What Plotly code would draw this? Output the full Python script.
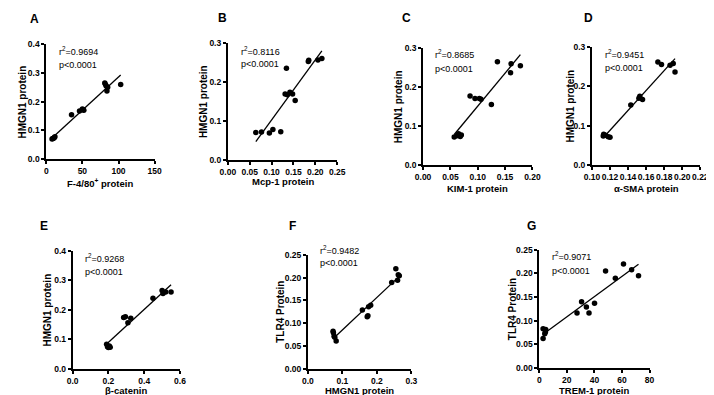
import numpy as np
import plotly.graph_objects as go

# ---------------- data ----------------
a_x = [8, 9, 10, 11, 12, 35, 46, 50, 51, 52, 81, 82, 83, 84, 85, 103]
a_y = [0.070, 0.072, 0.073, 0.075, 0.078, 0.155, 0.168, 0.175, 0.172, 0.170, 0.265, 0.260, 0.255, 0.237, 0.250, 0.260]

b_x = [0.064, 0.077, 0.095, 0.103, 0.121, 0.134, 0.131, 0.136, 0.142, 0.148, 0.154, 0.184, 0.185, 0.206, 0.215]
b_y = [0.071, 0.072, 0.070, 0.079, 0.073, 0.236, 0.170, 0.168, 0.174, 0.170, 0.153, 0.253, 0.256, 0.257, 0.261]

c_x = [0.057, 0.062, 0.065, 0.068, 0.070, 0.086, 0.095, 0.103, 0.106, 0.125, 0.136, 0.161, 0.160, 0.178]
c_y = [0.072, 0.075, 0.080, 0.073, 0.077, 0.177, 0.171, 0.171, 0.169, 0.155, 0.265, 0.260, 0.237, 0.255]

d_x = [0.1125, 0.113, 0.115, 0.118, 0.120, 0.143, 0.152, 0.153, 0.156, 0.173, 0.177, 0.1865, 0.190, 0.192]
d_y = [0.0737, 0.0786, 0.076, 0.072, 0.071, 0.153, 0.170, 0.175, 0.167, 0.262, 0.256, 0.254, 0.258, 0.237]

e_x = [0.19, 0.195, 0.20, 0.205, 0.21, 0.285, 0.295, 0.309, 0.325, 0.449, 0.50, 0.505, 0.52, 0.55]
e_y = [0.083, 0.075, 0.072, 0.077, 0.073, 0.174, 0.176, 0.156, 0.171, 0.239, 0.265, 0.255, 0.260, 0.260]

f_x = [0.073, 0.074, 0.076, 0.078, 0.082, 0.158, 0.174, 0.172, 0.176, 0.182, 0.243, 0.255, 0.260, 0.262, 0.265]
f_y = [0.082, 0.079, 0.071, 0.069, 0.061, 0.129, 0.116, 0.114, 0.136, 0.139, 0.189, 0.219, 0.194, 0.206, 0.204]

g_x = [2.8, 2.8, 4.0, 4.7, 4.5, 27.4, 30.7, 34.2, 36.1, 40.1, 48.1, 55.2, 61.1, 67.0, 72.0]
g_y = [0.062, 0.083, 0.072, 0.081, 0.076, 0.116, 0.140, 0.129, 0.116, 0.137, 0.205, 0.190, 0.220, 0.208, 0.195]

panel_letters = ["A", "B", "C", "D", "E", "F", "G"]
r2_values = ["0.9694", "0.8116", "0.8685", "0.9451", "0.9268", "0.9482", "0.9071"]
p_text = "p<0.0001"
x_titles = ["F-4/80<sup>+</sup> protein", "Mcp-1 protein", "KIM-1 protein", "α-SMA protein",
            "β-catenin", "HMGN1 protein", "TREM-1 protein"]
y_titles = ["HMGN1 protein", "HMGN1 protein", "HMGN1 protein", "HMGN1 protein",
            "HMGN1 protein", "TLR4 Protein", "TLR4 Protein"]
x_ranges = [(0, 150), (0, 0.25), (0, 0.20), (0.10, 0.22), (0, 0.6), (0, 0.3), (0, 80)]
x_dticks = [50, 0.05, 0.05, 0.02, 0.2, 0.1, 20]
x_formats = [".0f", ".2f", ".2f", ".2f", ".1f", ".1f", ".0f"]
y_ranges = [(0, 0.4), (0, 0.3), (0, 0.3), (0, 0.3), (0, 0.4), (0, 0.25), (0, 0.25)]
y_dticks = [0.1, 0.1, 0.1, 0.1, 0.1, 0.05, 0.05]
y_formats = [".1f", ".1f", ".1f", ".1f", ".1f", ".2f", ".2f"]

xs = [a_x, b_x, c_x, d_x, e_x, f_x, g_x]
ys = [a_y, b_y, c_y, d_y, e_y, f_y, g_y]

# ---------------- layout geometry (pixels) ----------------
W, H = 714, 395
boxes = [(31, 142, 32, 150), (217, 329, 31, 151), (417, 529, 36, 156), (590, 701, 35, 156),
         (58, 168, 244, 365), (299, 405, 248, 365), (536, 649, 243, 364)]
letter_pos = [(19, 6), (212, 5.5), (400.5, 5.5), (586, 5.5), (29, 219), (283.5, 219), (528.5, 219)]
r2_pos = [(41.5, 39.5), (228, 38.5), (427, 42.5), (601, 42.5), (69, 251), (309, 243.5), (547, 249)]
p_pos = [(41.5, 53), (228, 52.5), (427, 57), (601, 56.5), (69, 265.5), (309, 257), (547, 265)]
ytitle_off = [24, 25, 25, 22, 25.5, 27.5, 27.5]
xtitle_off = [24, 22, 24, 24, 22.5, 22.5, 23]

FONT = "Liberation Sans, Arial, Helvetica, sans-serif"
EPS = 1e-6


def px(x):
    return x / W


def py(y):
    return 1 - y / H


fig = go.Figure()
annotations = []
layout = {}

for i in range(7):
    n = "" if i == 0 else str(i + 1)
    xa, ya = "x" + n, "y" + n
    x0, x1, yt, yb = boxes[i]
    x = np.array(xs[i], dtype=float)
    y = np.array(ys[i], dtype=float)
    k, b = np.polyfit(x, y, 1)
    lx = np.array([x.min(), x.max()])
    fig.add_trace(go.Scatter(x=lx, y=k * lx + b, mode="lines", xaxis=xa, yaxis=ya,
                             line=dict(color="black", width=1.3), showlegend=False, hoverinfo="skip"))
    fig.add_trace(go.Scatter(x=x, y=y, mode="markers", xaxis=xa, yaxis=ya,
                             marker=dict(color="black", size=5.5), showlegend=False))

    common = dict(showline=True, linecolor="black", linewidth=1.8, ticks="outside",
                  ticklen=3, tickwidth=1.8, tickcolor="black", showgrid=False, zeroline=False,
                  tickangle=0, ticklabeloverflow="allow",
                  tickfont=dict(family=FONT, size=8.5, color="black", weight=700))
    xr = x_ranges[i]
    yr = y_ranges[i]
    layout["xaxis" + n] = dict(domain=[px(x0), px(x1)], range=[xr[0], xr[1] + EPS * max(1, xr[1])],
                               tick0=xr[0], dtick=x_dticks[i], tickformat=x_formats[i],
                               anchor=ya, **common)
    layout["yaxis" + n] = dict(domain=[py(yb), py(yt)], range=[yr[0], yr[1] + EPS],
                               tick0=0, dtick=y_dticks[i], tickformat=y_formats[i],
                               anchor=xa, **common)

    annotations.append(dict(text="<b>" + panel_letters[i] + "</b>", x=px(letter_pos[i][0]), y=py(letter_pos[i][1]),
                            xref="paper", yref="paper", showarrow=False, xanchor="center", yanchor="middle",
                            font=dict(family=FONT, size=12, color="black")))
    annotations.append(dict(text="r<sup>2</sup>=" + r2_values[i], x=px(r2_pos[i][0]), y=py(r2_pos[i][1]),
                            xref="paper", yref="paper", showarrow=False, xanchor="left", yanchor="middle",
                            font=dict(family=FONT, size=9, color="black")))
    annotations.append(dict(text=p_text, x=px(p_pos[i][0]), y=py(p_pos[i][1]),
                            xref="paper", yref="paper", showarrow=False, xanchor="left", yanchor="middle",
                            font=dict(family=FONT, size=9, color="black")))
    annotations.append(dict(text="<b>" + x_titles[i] + "</b>", x=px((x0 + x1) / 2), y=py(yb + xtitle_off[i]),
                            xref="paper", yref="paper", showarrow=False, xanchor="center", yanchor="middle",
                            font=dict(family=FONT, size=9.5, color="black")))
    annotations.append(dict(text="<b>" + y_titles[i] + "</b>", x=px(x0 - ytitle_off[i]), y=py((yt + yb) / 2),
                            xref="paper", yref="paper", showarrow=False, xanchor="center", yanchor="middle",
                            textangle=-90,
                            font=dict(family=FONT, size=10, color="black")))

fig.update_layout(width=W, height=H, margin=dict(l=0, r=0, t=0, b=0),
                  paper_bgcolor="white", plot_bgcolor="white",
                  annotations=annotations, **layout)

fig.write_html("out.html")
